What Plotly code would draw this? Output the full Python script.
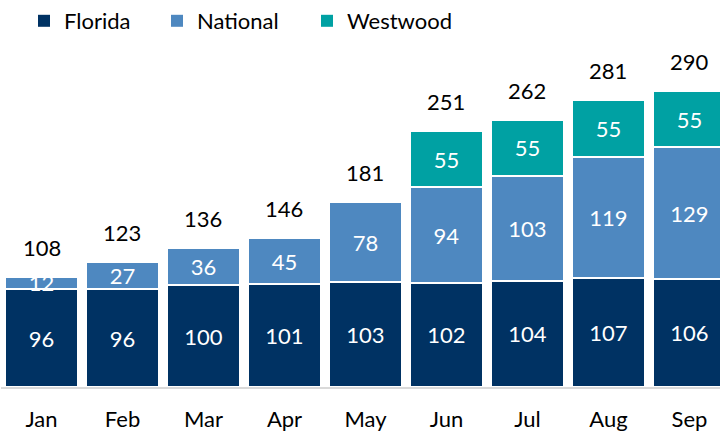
import plotly.graph_objects as go

months = ["Jan", "Feb", "Mar", "Apr", "May", "Jun", "Jul", "Aug", "Sep"]
florida = [96, 96, 100, 101, 103, 102, 104, 107, 106]
national = [12, 27, 36, 45, 78, 94, 103, 119, 129]
westwood = [None, None, None, None, None, 55, 55, 55, 55]
totals = [108, 123, 136, 146, 181, 251, 262, 281, 290]

FONT = "Lato"
SIZE = 22
colors = {"Florida": "#003263", "National": "#4e88c0", "Westwood": "#00a1a3"}

fig = go.Figure()
series = [("Florida", florida), ("National", national), ("Westwood", westwood)]
for name, vals in series:
    fig.add_trace(go.Bar(
        name=name, x=months, y=vals, showlegend=False,
        marker=dict(color=colors[name], line=dict(color="white", width=2)),
        text=[str(v) if v is not None else "" for v in vals],
        textposition="inside", insidetextanchor="middle", constraintext="none",
        textangle=0,
        textfont=dict(family=FONT, size=SIZE, color="white"),
        hoverinfo="skip",
    ))

# legend entries: one legend per series so each can be placed on its own
legend_ids = ["legend", "legend2", "legend3"]
legend_left_px = [24, 157, 307]
for (name, _), lid in zip(series, legend_ids):
    fig.add_trace(go.Scatter(
        name=name, x=[None], y=[None], mode="markers", legend=lid,
        marker=dict(symbol="square", size=12, color=colors[name]),
        hoverinfo="skip",
    ))

# stack totals above each bar
for m, t in zip(months, totals):
    fig.add_annotation(x=m, y=t, text=str(t), showarrow=False,
                       yanchor="bottom", yshift=14,
                       font=dict(family=FONT, size=SIZE, color="#000000"))

legend_style = dict(orientation="h", xanchor="left", y=1.09, yanchor="middle",
                    font=dict(family=FONT, size=SIZE, color="#000000"),
                    itemclick=False, itemsizing="trace", bgcolor="rgba(0,0,0,0)")

fig.update_layout(
    barmode="stack", bargap=0.1,
    width=720, height=432,
    margin=dict(l=1, r=0, t=47, b=45),
    paper_bgcolor="white", plot_bgcolor="white",
    font=dict(family=FONT, size=SIZE, color="#000000"),
    legend=dict(x=(legend_left_px[0] - 1) / 719, **legend_style),
    legend2=dict(x=(legend_left_px[1] - 1) / 719, **legend_style),
    legend3=dict(x=(legend_left_px[2] - 1) / 719, **legend_style),
    xaxis=dict(range=[-0.5, 8.377], showline=True, linecolor="#d9d9d9", linewidth=2,
               ticks="", ticklabelstandoff=12, showgrid=False, automargin=False,
               tickfont=dict(family=FONT, size=SIZE, color="#000000")),
    yaxis=dict(range=[0, 329.5], visible=False, showgrid=False, automargin=False),
)

fig.write_html("out.html")
